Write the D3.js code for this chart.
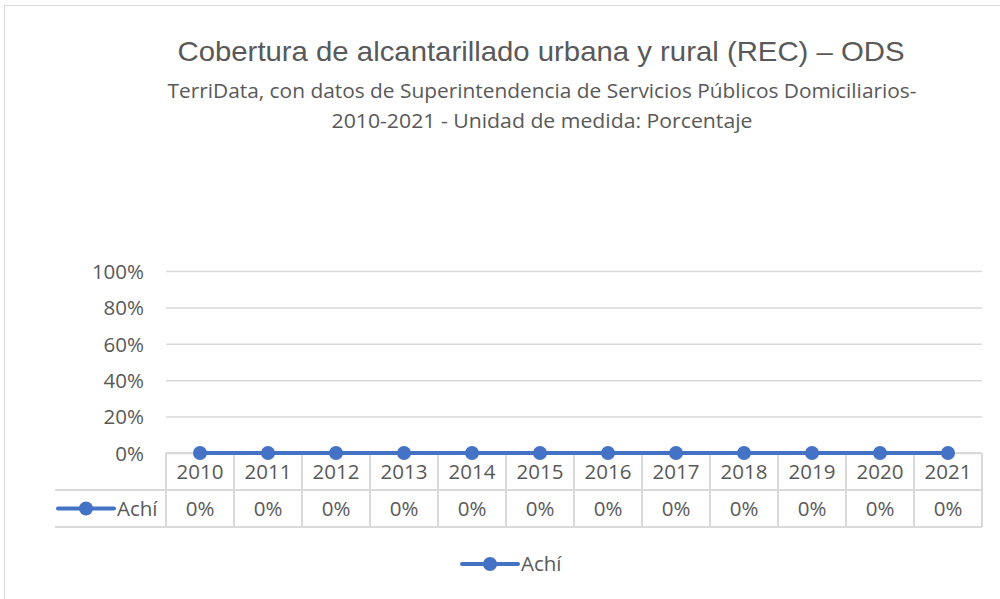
<!DOCTYPE html>
<html>
<head>
<meta charset="utf-8">
<script src="https://cdn.jsdelivr.net/npm/d3@7"></script>
<style>
  body { margin: 0; background: #fff; }
  svg { display: block; }
</style>
</head>
<body>
<svg id="chart" width="1000" height="599"></svg>
<script>
// Chart data
var years = ["2010", "2011", "2012", "2013", "2014", "2015", "2016", "2017", "2018", "2019", "2020", "2021"]
var achiValues = [0, 0, 0, 0, 0, 0, 0, 0, 0, 0, 0, 0]
var yTicks = [0, 0.2, 0.4, 0.6, 0.8, 1]
var seriesName = "Achí"
var titleText = "Cobertura de alcantarillado urbana y rural (REC) – ODS"
var subtitleLines = [
  "TerriData, con datos de Superintendencia de Servicios Públicos Domiciliarios-",
  "2010-2021 - Unidad de medida: Porcentaje"
]

// Colors
var lineColor = '#4472C4'
var gridColor = '#d9d9d9'
var textColor = '#595959'
var bodyFont = '"Open Sans", "Noto Sans", sans-serif'
var labelSize = 20.5

var svg = d3.select('#chart')

// plot frame
var plot = { left: 166, right: 982, top: 271, bottom: 453 }
var rowH = 37

// outer chart border
svg.append('rect')
  .attr('x', 4.5).attr('y', 5.5)
  .attr('width', 1000).attr('height', 600)
  .attr('fill', 'none').attr('stroke', '#d9d9d9').attr('stroke-width', 1)

var x = d3.scaleBand().domain(years).range([plot.left, plot.right])
var y = d3.scaleLinear().domain([0, 1]).range([plot.bottom, plot.top])

// Title
svg.append('text')
  .attr('x', 541).attr('y', 61)
  .attr('text-anchor', 'middle')
  .attr('font-family', '"Liberation Sans", Arial, sans-serif')
  .attr('font-size', 28)
  .attr('fill', textColor)
  .attr('textLength', 727).attr('lengthAdjust', 'spacingAndGlyphs')
  .text(titleText)

var subWidths = [749, 421]
subtitleLines.forEach(function(line, i) {
  svg.append('text')
    .attr('x', 542).attr('y', 98 + i * 30)
    .attr('text-anchor', 'middle')
    .attr('font-family', bodyFont)
    .attr('font-size', 20.5)
    .attr('fill', textColor)
    .attr('textLength', subWidths[i]).attr('lengthAdjust', 'spacingAndGlyphs')
    .text(line)
})

// Gridlines + y labels
var yAxis = d3.axisLeft(y)
  .tickValues(yTicks)
  .tickSize(-(plot.right - plot.left))
  .tickPadding(22)
  .tickFormat(d3.format('.0%'))

var gy = svg.append('g')
  .attr('transform', 'translate(' + plot.left + ',0)')
  .call(yAxis)
gy.select('.domain').remove()
gy.selectAll('.tick line').attr('stroke', gridColor).attr('stroke-width', 1.5)
gy.selectAll('.tick text')
  .attr('fill', textColor)
  .attr('font-family', bodyFont)
  .attr('font-size', labelSize)
  .attr('dy', '0.36em')

// Data table
var table = svg.append('g')
var tableLeft = 55
var tableBottom = plot.bottom + rowH * 2
// horizontal lines
table.append('line')
  .attr('x1', plot.left).attr('x2', plot.right)
  .attr('y1', plot.bottom).attr('y2', plot.bottom)
  .attr('stroke', gridColor).attr('stroke-width', 2)
;[plot.bottom + rowH, tableBottom].forEach(function(yy) {
  table.append('line')
    .attr('x1', tableLeft).attr('x2', plot.right)
    .attr('y1', yy).attr('y2', yy)
    .attr('stroke', gridColor).attr('stroke-width', 2)
})
// vertical lines
years.concat(['end']).forEach(function(yr, i) {
  var xx = i < years.length ? x(yr) : plot.right
  table.append('line')
    .attr('x1', xx).attr('x2', xx)
    .attr('y1', plot.bottom).attr('y2', tableBottom)
    .attr('stroke', gridColor).attr('stroke-width', 2)
})
// year labels
table.selectAll('.yr')
  .data(years)
  .enter().append('text')
  .attr('x', function(d) { return x(d) + x.bandwidth() / 2 })
  .attr('y', plot.bottom + rowH / 2)
  .attr('dy', '0.36em')
  .attr('text-anchor', 'middle')
  .attr('font-family', bodyFont)
  .attr('font-size', labelSize)
  .attr('fill', textColor)
  .text(function(d) { return d })
// value labels
table.selectAll('.val')
  .data(achiValues)
  .enter().append('text')
  .attr('x', function(d, i) { return x(years[i]) + x.bandwidth() / 2 })
  .attr('y', plot.bottom + rowH * 1.5)
  .attr('dy', '0.36em')
  .attr('text-anchor', 'middle')
  .attr('font-family', bodyFont)
  .attr('font-size', labelSize)
  .attr('fill', textColor)
  .text(function(d) { return d3.format('.0%')(d) })

// legend key drawing
function legendKey(g, cx, cy, label) {
  g.append('line')
    .attr('x1', cx - 28).attr('x2', cx + 28)
    .attr('y1', cy).attr('y2', cy)
    .attr('stroke', lineColor).attr('stroke-width', 4)
    .attr('stroke-linecap', 'round')
  g.append('circle')
    .attr('cx', cx).attr('cy', cy).attr('r', 7)
    .attr('fill', lineColor)
  g.append('text')
    .attr('x', cx + 31).attr('y', cy)
    .attr('dy', '0.36em')
    .attr('font-family', bodyFont)
    .attr('font-size', labelSize)
    .attr('fill', textColor)
    .text(label)
}
legendKey(table, 86, plot.bottom + rowH * 1.5, seriesName)

// Series line
var line = d3.line()
  .x(function(d, i) { return x(years[i]) + x.bandwidth() / 2 })
  .y(function(d) { return y(d) })

svg.append('path')
  .datum(achiValues)
  .attr('d', line)
  .attr('fill', 'none')
  .attr('stroke', lineColor)
  .attr('stroke-width', 4)
  .attr('stroke-linecap', 'round')

svg.selectAll('.dot')
  .data(achiValues)
  .enter().append('circle')
  .attr('cx', function(d, i) { return x(years[i]) + x.bandwidth() / 2 })
  .attr('cy', function(d) { return y(d) })
  .attr('r', 7)
  .attr('fill', lineColor)

// Bottom legend
legendKey(svg.append('g'), 490, 564, seriesName)
</script>
</body>
</html>
